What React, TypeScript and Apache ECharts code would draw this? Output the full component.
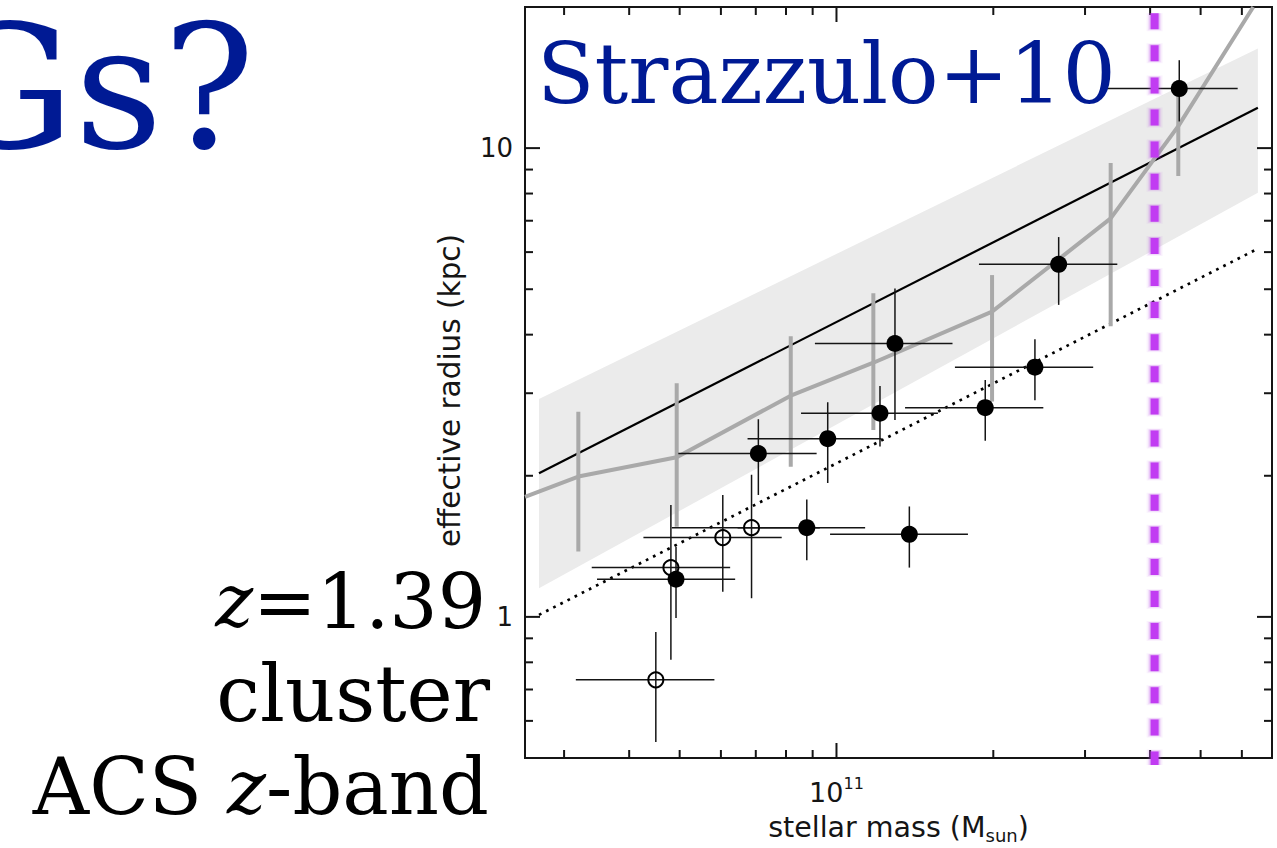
import React, { useEffect, useRef } from "react";
import * as echarts from "echarts";

// Axis extents (stellar mass in M_sun, effective radius in kpc), both logarithmic
const X_MIN = 2.524e10;
const X_MAX = 6.855e11;
const Y_MIN = 0.5;
const Y_MAX = 20;

// Tick positions
const xMajorTicks = [1e11];
const xMinorTicks = [3e10, 4e10, 5e10, 6e10, 7e10, 8e10, 9e10, 2e11, 3e11, 4e11, 5e11, 6e11];
const yMajorTicks = [1, 10];
const yMinorTicks = [0.6, 0.7, 0.8, 0.9, 2, 3, 4, 5, 6, 7, 8, 9];

// Cluster galaxies, filled symbols
const filledMass = [4.55e11, 1.295e11, 1.212e11, 9.62e10, 7.08e10, 2.67e11, 2.404e11, 1.93e11, 8.77e10, 1.38e11, 4.92e10];
const filledRadius = [13.4, 3.83, 2.72, 2.4, 2.23, 5.65, 3.41, 2.795, 1.55, 1.5, 1.203];
const filledMassLo = [3.21e11, 9.09e10, 8.55e10, 6.75e10, 4.97e10, 1.877e11, 1.688e11, 1.354e11, 6.46e10, 9.72e10, 3.47e10];
const filledMassHi = [5.89e11, 1.67e11, 1.566e11, 1.221e11, 9.16e10, 3.46e11, 3.11e11, 2.495e11, 1.135e11, 1.788e11, 6.39e10];
const filledRadiusLo = [11.4, 2.63, 2.31, 1.93, 1.82, 4.63, 2.9, 2.376, 1.32, 1.274, 0.994];
const filledRadiusHi = [15.4, 5.02, 3.11, 2.87, 2.64, 6.46, 3.91, 3.2, 1.78, 1.72, 1.412];

// Cluster galaxies, open symbols
const openMass = [6.87e10, 6.05e10, 4.81e10, 4.5e10];
const openRadius = [1.55, 1.476, 1.274, 0.734];
const openMassLo = [4.83e10, 4.26e10, 3.39e10, 3.16e10];
const openMassHi = [9.29e10, 7.85e10, 6.25e10, 5.83e10];
const openRadiusLo = [1.096, 1.132, 0.81, 0.541];
const openRadiusHi = [2.01, 1.82, 1.733, 0.928];

// Binned field relation (grey line with grey error bars)
const binMass = [2.524e10, 3.195e10, 4.935e10, 8.17e10, 1.177e11, 1.989e11, 3.36e11, 4.53e11, 6.31e11];
const binRadius = [1.803, 1.992, 2.19, 2.964, 3.485, 4.48, 7.08, 11.14, 20];
const binErrMass = [3.195e10, 4.935e10, 8.17e10, 1.177e11, 1.989e11, 3.36e11, 4.53e11];
const binErrRadius = [1.992, 2.19, 2.964, 3.485, 4.48, 7.08, 11.14];
const binErrLo = [1.378, 1.557, 2.09, 2.505, 2.88, 4.17, 8.72];
const binErrHi = [2.74, 3.15, 3.97, 4.9, 5.36, 9.3, 13.96];

// Local relation: scatter band, mean line and dotted lower line
const bandMass = [2.685e10, 6.44e11];
const bandLow = [1.151, 8.03];
const bandHigh = [2.916, 16.32];
const relMass = [2.685e10, 6.44e11];
const relRadius = [2.025, 12.19];
const lowMass = [2.685e10, 6.36e11];
const lowRadius = [1.01, 6.06];

// Vertical mass cut
const cutMass = 4.08e11;
const cutRadius = [19.4, 0.483];

const BLUE = "#001a94";
const GREY = "#a9a9a9";
const INK = "#151515";
const PURPLE = "#c13cf2";
const SANS = '"DejaVu Sans", sans-serif';
const SERIF = '"DejaVu Serif", serif';

const isDecade = (v: number) => {
  const e = Math.log10(v);
  return Math.abs(e - Math.round(e)) < 1e-6;
};

export default function App() {
  const ref = useRef<HTMLDivElement>(null);

  useEffect(() => {
    if (!ref.current) return;
    const chart = echarts.init(ref.current, null, { renderer: "svg" });

    const errData = (
      m: number[], r: number[], mlo: number[], mhi: number[], rlo: number[], rhi: number[]
    ) => m.map((v, i) => [v, r[i], mlo[i], mhi[i], rlo[i], rhi[i]]);

    const crossRender = (params: any, api: any) => {
      const c = api.coord([api.value(0), api.value(1)]);
      const l = api.coord([api.value(2), api.value(1)]);
      const r = api.coord([api.value(3), api.value(1)]);
      const lo = api.coord([api.value(0), api.value(4)]);
      const hi = api.coord([api.value(0), api.value(5)]);
      const style = { stroke: INK, lineWidth: 1.5 };
      return {
        type: "group",
        children: [
          { type: "line", shape: { x1: l[0], y1: c[1], x2: r[0], y2: c[1] }, style },
          { type: "line", shape: { x1: c[0], y1: hi[1], x2: c[0], y2: lo[1] }, style },
        ],
      };
    };

    const tickRender = (params: any, api: any) => {
      const children: any[] = [];
      const style = { stroke: INK, lineWidth: 2 };
      const xTicks = (vals: number[], len: number) =>
        vals.forEach((v) => {
          const b = api.coord([v, Y_MIN]);
          const t = api.coord([v, Y_MAX]);
          children.push({ type: "line", shape: { x1: b[0], y1: b[1], x2: b[0], y2: b[1] - len }, style });
          children.push({ type: "line", shape: { x1: t[0], y1: t[1], x2: t[0], y2: t[1] + len }, style });
        });
      const yTicks = (vals: number[], len: number) =>
        vals.forEach((v) => {
          const l = api.coord([X_MIN, v]);
          const r = api.coord([X_MAX, v]);
          children.push({ type: "line", shape: { x1: l[0], y1: l[1], x2: l[0] + len, y2: l[1] }, style });
          children.push({ type: "line", shape: { x1: r[0], y1: r[1], x2: r[0] - len, y2: r[1] }, style });
        });
      xTicks(xMajorTicks, 15);
      xTicks(xMinorTicks, 8);
      yTicks(yMajorTicks, 15);
      yTicks(yMinorTicks, 8);
      return { type: "group", children };
    };

    // Dashed vertical cut with a soft halo built from wider translucent strokes
    const cutRender = (params: any, api: any) => {
      const top = api.coord([api.value(0), api.value(1)]);
      const bottom = api.coord([api.value(0), api.value(2)]);
      const shape = { x1: top[0], y1: top[1], x2: bottom[0], y2: bottom[1] };
      const layer = (width: number, color: string, dash: number[], offset: number) => ({
        type: "line",
        shape,
        style: { stroke: color, lineWidth: width, lineDash: dash, lineDashOffset: offset, lineCap: "butt" },
      });
      return {
        type: "group",
        children: [
          layer(16, "rgba(180, 70, 230, 0.07)", [20, 12.1], 2),
          layer(13, "rgba(180, 70, 230, 0.12)", [18, 14.1], 1),
          layer(10.5, "rgba(180, 70, 230, 0.22)", [17, 15.1], 0.5),
          layer(8, PURPLE, [16, 16.1], 0),
        ],
      };
    };

    const option: any = {
      animation: false,
      backgroundColor: "#ffffff",
      grid: {
        left: 525,
        right: 5,
        top: 7,
        bottom: 90,
        show: true,
        borderColor: INK,
        borderWidth: 2,
        backgroundColor: "transparent",
        containLabel: false,
        outerBoundsMode: "none",
      },
      xAxis: {
        type: "log",
        logBase: 10,
        min: X_MIN,
        max: X_MAX,
        axisLine: { show: false },
        axisTick: { show: false },
        splitLine: { show: false },
        axisLabel: {
          margin: 17,
          color: INK,
          fontFamily: SANS,
          formatter: (v: number) => (isDecade(v) ? `{b|10}{s|${Math.round(Math.log10(v))}}` : ""),
          rich: {
            b: { fontSize: 27, fontFamily: SANS, color: INK },
            s: { fontSize: 16, fontFamily: SANS, color: INK, padding: [0, 0, 19, 0] },
          },
        },
        name: "stellar mass (M{sub|sun})",
        nameLocation: "middle",
        nameGap: 52,
        nameTextStyle: {
          fontSize: 28.5,
          fontFamily: SANS,
          color: INK,
          rich: {
            sub: { fontSize: 18, fontFamily: SANS, color: INK, padding: [16, 0, 0, 0] },
          },
        },
      },
      yAxis: {
        type: "log",
        logBase: 10,
        min: Y_MIN,
        max: Y_MAX,
        axisLine: { show: false },
        axisTick: { show: false },
        splitLine: { show: false },
        axisLabel: {
          margin: 12,
          fontSize: 26,
          fontFamily: SANS,
          color: INK,
          formatter: (v: number) => (isDecade(v) ? String(Math.round(v)) : ""),
        },
        name: "effective radius (kpc)",
        nameLocation: "middle",
        nameGap: 60,
        nameTextStyle: {
          fontSize: 29.5,
          fontFamily: SANS,
          color: INK,
          padding: [0, 16, 0, 0],
        },
      },
      series: [
        {
          type: "custom",
          name: "band",
          silent: true,
          z: 1,
          data: [[bandMass[0], bandLow[0]]],
          renderItem: (params: any, api: any) => {
            const pts = [
              api.coord([bandMass[0], bandLow[0]]),
              api.coord([bandMass[1], bandLow[1]]),
              api.coord([bandMass[1], bandHigh[1]]),
              api.coord([bandMass[0], bandHigh[0]]),
            ];
            return { type: "polygon", shape: { points: pts }, style: { fill: "#ebebeb" } };
          },
        },
        {
          type: "line",
          name: "relation",
          silent: true,
          z: 2,
          symbol: "none",
          data: relMass.map((m, i) => [m, relRadius[i]]),
          lineStyle: { color: "#000", width: 2.2 },
        },
        {
          type: "line",
          name: "lower",
          silent: true,
          z: 2,
          symbol: "none",
          data: lowMass.map((m, i) => [m, lowRadius[i]]),
          lineStyle: { color: "#000", width: 2.7, type: [2.7, 5.3], cap: "butt" },
        },
        {
          type: "line",
          name: "binned",
          silent: true,
          z: 3,
          symbol: "none",
          data: binMass.map((m, i) => [m, binRadius[i]]),
          lineStyle: { color: GREY, width: 4 },
        },
        {
          type: "custom",
          name: "binned errors",
          silent: true,
          z: 3,
          data: binErrMass.map((m, i) => [m, binErrRadius[i], binErrLo[i], binErrHi[i]]),
          renderItem: (params: any, api: any) => {
            const lo = api.coord([api.value(0), api.value(2)]);
            const hi = api.coord([api.value(0), api.value(3)]);
            return {
              type: "line",
              shape: { x1: lo[0], y1: lo[1], x2: hi[0], y2: hi[1] },
              style: { stroke: GREY, lineWidth: 4 },
            };
          },
        },
        {
          type: "custom",
          name: "filled errors",
          silent: true,
          z: 4,
          data: errData(filledMass, filledRadius, filledMassLo, filledMassHi, filledRadiusLo, filledRadiusHi),
          renderItem: crossRender,
        },
        {
          type: "custom",
          name: "open errors",
          silent: true,
          z: 4,
          data: errData(openMass, openRadius, openMassLo, openMassHi, openRadiusLo, openRadiusHi),
          renderItem: crossRender,
        },
        {
          type: "scatter",
          name: "filled",
          z: 5,
          symbol: "circle",
          symbolSize: 17,
          data: filledMass.map((m, i) => [m, filledRadius[i]]),
          itemStyle: { color: "#000", opacity: 1 },
        },
        {
          type: "scatter",
          name: "open",
          z: 5,
          symbol: "circle",
          symbolSize: 15,
          data: openMass.map((m, i) => [m, openRadius[i]]),
          itemStyle: { color: "transparent", borderColor: "#000", borderWidth: 2, opacity: 1 },
        },
        {
          type: "custom",
          name: "ticks",
          silent: true,
          z: 6,
          data: [[1e11, 1]],
          renderItem: tickRender,
        },
        {
          type: "custom",
          name: "mass cut",
          silent: true,
          z: 7,
          data: [[cutMass, cutRadius[0], cutRadius[1]]],
          renderItem: cutRender,
        },
      ],
      graphic: [
        {
          type: "text",
          x: 255,
          y: 88,
          z: 10,
          style: { text: "Gs?", font: `172px ${SERIF}`, fill: BLUE, textAlign: "right", textVerticalAlign: "middle" },
        },
        {
          type: "text",
          x: 537,
          y: 74,
          z: 10,
          style: { text: "Strazzulo+10", font: `84px ${SERIF}`, fill: BLUE, textAlign: "left", textVerticalAlign: "middle" },
        },
        {
          type: "text",
          x: 486,
          y: 601,
          z: 10,
          style: {
            text: "{i|z}{r|=1.39}",
            font: `76px ${SERIF}`,
            fill: "#000",
            textAlign: "right",
            textVerticalAlign: "middle",
            rich: {
              i: { fontSize: 72, fontFamily: SERIF, fontStyle: "italic", fill: "#000", color: "#000" },
              r: { fontSize: 76, fontFamily: SERIF, fill: "#000", color: "#000" },
            },
          },
        },
        {
          type: "text",
          x: 490,
          y: 694,
          z: 10,
          style: { text: "cluster", font: `78px ${SERIF}`, fill: "#000", textAlign: "right", textVerticalAlign: "middle" },
        },
        {
          type: "text",
          x: 489,
          y: 787,
          z: 10,
          style: {
            text: "{r|ACS }{i|z}{r|-band}",
            font: `78px ${SERIF}`,
            fill: "#000",
            textAlign: "right",
            textVerticalAlign: "middle",
            rich: {
              i: { fontSize: 74, fontFamily: SERIF, fontStyle: "italic", fill: "#000", color: "#000" },
              r: { fontSize: 78, fontFamily: SERIF, fill: "#000", color: "#000" },
            },
          },
        },
      ],
    };

    chart.setOption(option);
    return () => chart.dispose();
  }, []);

  return (
    <div
      ref={ref}
      style={{ position: "fixed", left: 0, top: 0, width: 1277, height: 848, background: "#fff" }}
    />
  );
}
